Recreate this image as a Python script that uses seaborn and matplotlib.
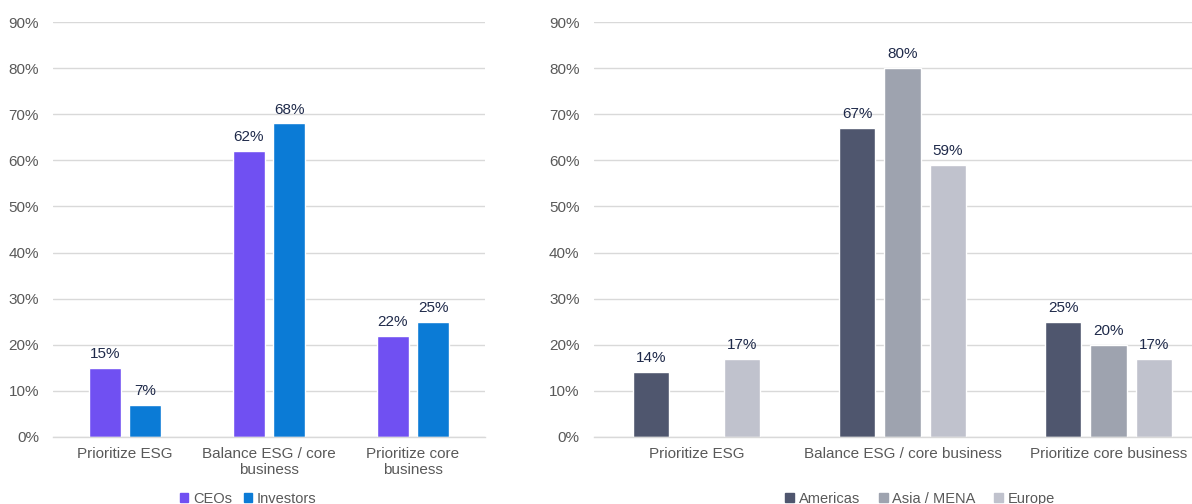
import matplotlib
matplotlib.use("Agg")
import matplotlib.pyplot as plt
import seaborn as sns
import pandas as pd
import numpy as np
from matplotlib.patches import Patch

# ---- data ----
left_categories = ["Prioritize ESG", "Balance ESG / core\nbusiness", "Prioritize core\nbusiness"]
ceos = [15, 62, 22]
investors = [7, 68, 25]
left_series = ["CEOs", "Investors"]

right_categories = ["Prioritize ESG", "Balance ESG / core business", "Prioritize core business"]
americas = [14, 67, 25]
asia_mena = [None, 80, 20]
europe = [17, 59, 17]
right_series = ["Americas", "Asia / MENA", "Europe"]

yticks = [0, 10, 20, 30, 40, 50, 60, 70, 80, 90]

left_colors = ["#7050F2", "#0B7BD6"]
right_colors = ["#4F566E", "#9EA3AF", "#C0C2CD"]

sns.set_theme(style="white")
plt.rcParams["font.family"] = ["Liberation Sans", "DejaVu Sans"]

TICK_COLOR = "#595959"
LABEL_COLOR = "#1F2A4A"
GRID_COLOR = "#D9D9D9"
FS = 11

fig = plt.figure(figsize=(11.92, 5.04), dpi=100)
axL = fig.add_axes([53 / 1192, 67 / 504, 432 / 1192, 415 / 504])
axR = fig.add_axes([593.5 / 1192, 67 / 504, 618 / 1192, 415 / 504])


def build_df(categories, series_names, series_values):
    rows = []
    for name, vals in zip(series_names, series_values):
        for c, v in zip(categories, vals):
            if v is not None:
                rows.append({"category": c, "series": name, "value": v})
    return pd.DataFrame(rows)


def style_axis(ax, categories):
    ax.set_ylim(0, 90)
    ax.set_xlim(-0.5, len(categories) - 0.5)
    ax.set_yticks(yticks)
    ax.set_yticklabels([f"{t}%" for t in yticks])
    ax.yaxis.grid(True, color=GRID_COLOR, linewidth=1)
    ax.set_axisbelow(True)
    for s in ["top", "right", "left"]:
        ax.spines[s].set_visible(False)
    ax.spines["bottom"].set_color(GRID_COLOR)
    ax.spines["bottom"].set_linewidth(1)
    ax.tick_params(axis="both", length=0, labelsize=FS, labelcolor=TICK_COLOR)
    ax.tick_params(axis="y", pad=10)
    ax.tick_params(axis="x", pad=7)
    ax.set_xlabel("")
    ax.set_ylabel("")
    if ax.get_legend() is not None:
        ax.get_legend().remove()
    for cont in ax.containers:
        ax.bar_label(cont, fmt="%d%%", padding=5, fontsize=FS, color=LABEL_COLOR)


dfL = build_df(left_categories, left_series, [ceos, investors])
sns.barplot(data=dfL, x="category", y="value", hue="series", order=left_categories,
            hue_order=left_series, palette=left_colors, width=0.556, gap=0.2,
            ax=axL, saturation=1, errorbar=None)
style_axis(axL, left_categories)

dfR = build_df(right_categories, right_series, [americas, asia_mena, europe])
sns.barplot(data=dfR, x="category", y="value", hue="series", order=right_categories,
            hue_order=right_series, palette=right_colors, width=0.66, gap=0.2,
            ax=axR, saturation=1, errorbar=None)
style_axis(axR, right_categories)

fig.legend(handles=[Patch(color=c, label=n) for c, n in zip(left_colors, left_series)],
           loc="center", bbox_to_anchor=(248 / 1192, 5 / 504), ncol=2, frameon=False,
           fontsize=10.5, handlelength=0.6, handleheight=0.6, handletextpad=0.3,
           columnspacing=0.8, labelcolor=TICK_COLOR)
fig.legend(handles=[Patch(color=c, label=n) for c, n in zip(right_colors, right_series)],
           loc="center", bbox_to_anchor=(920 / 1192, 5 / 504), ncol=3, frameon=False,
           fontsize=10.5, handlelength=0.6, handleheight=0.6, handletextpad=0.3,
           columnspacing=1.3, labelcolor=TICK_COLOR)

fig.savefig("out.png", dpi=100)
